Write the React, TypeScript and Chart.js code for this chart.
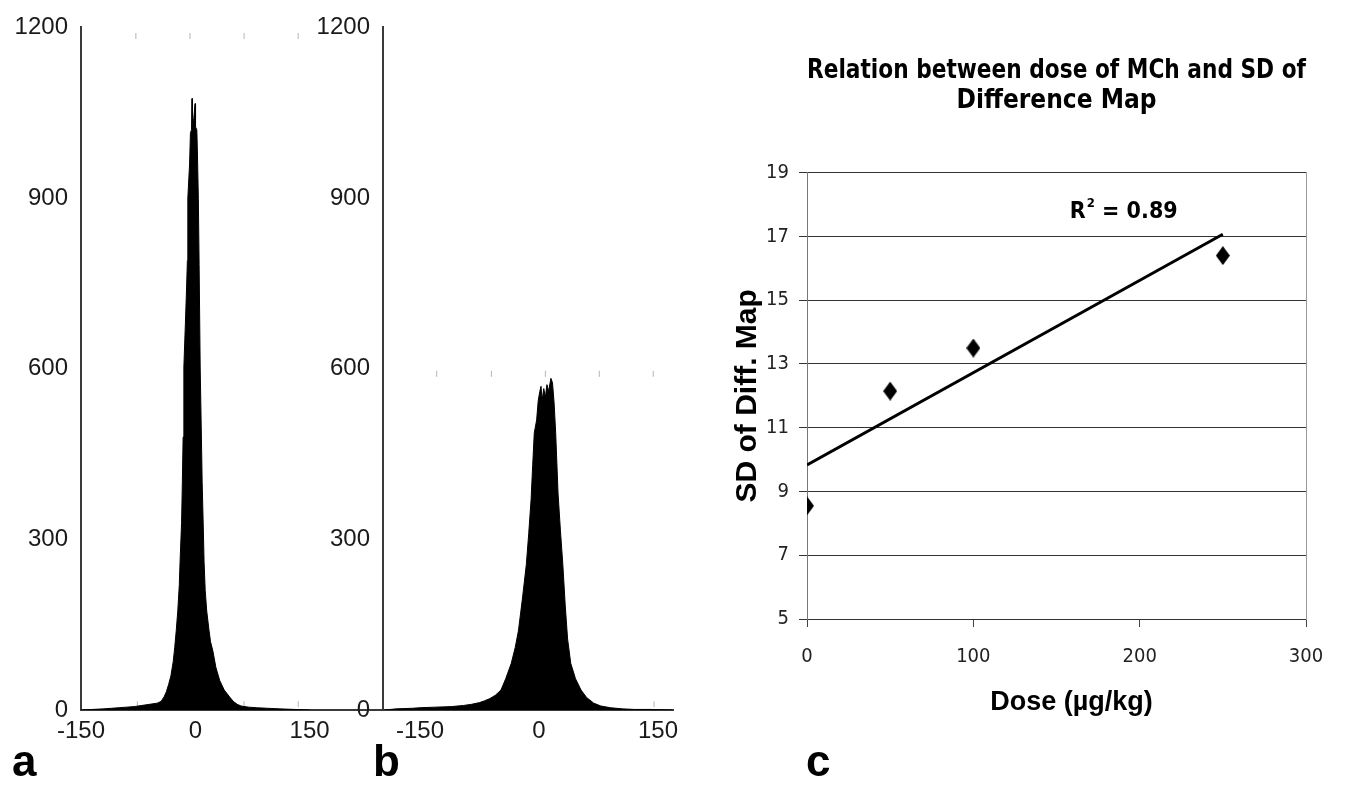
import React, { useEffect, useRef } from "react";
import { Chart, registerables } from "chart.js";

Chart.register(...registerables);

const W = 1345;
const H = 789;

// ---------- Panel a : histogram of difference values ----------
const histAX = [
  -150, -135, -120, -110, -100, -90, -80, -70, -60, -50,
  -45, -41, -38, -35, -32, -29, -27, -25, -23, -21,
  -20, -18, -17, -16, -15, -13, -11.5, -10.4, -9.8, -7.5,
  -6.4, -5, -4.3, -3.8, -2, -0.3, 0.3, 2, 2.6, 4,
  5, 6.4, 8, 9, 10.5, 11.5, 13, 15, 18, 20,
  23, 27, 32, 38, 45, 50, 55, 60, 70, 80,
  95, 110, 130, 150,
];
const histAY = [
  0, 1, 2, 3, 4, 5, 6, 8, 10, 12,
  15, 23, 32, 45, 60, 85, 110, 140, 174, 220,
  261, 330, 400, 480, 603, 680, 740, 790, 900, 960,
  1014, 1020, 1075, 1030, 1040, 1066, 1025, 1020, 990, 899,
  783, 603, 480, 400, 320, 261, 210, 174, 140, 120,
  104, 75, 52, 35, 23, 15, 10, 7, 5, 4,
  3, 2, 1, 0,
];

// ---------- Panel b : histogram of difference values ----------
const histBX = [
  -195, -180, -160, -150, -130, -110, -95, -85, -75, -69,
  -62, -55, -48, -42, -35, -30, -26, -21, -16, -13,
  -10, -8, -6, -3, -1, 1, 2.5, 4, 6, 8,
  10, 12, 15, 17, 19, 21, 24, 27, 30, 33,
  36, 40, 46, 53, 60, 69, 78, 90, 105, 120,
  140, 168,
];
const histBY = [
  0, 2, 3, 4, 5, 6, 8, 10, 13, 16,
  20, 26, 35, 55, 82, 110, 139, 195, 256, 310,
  370, 430, 487, 510, 544, 560, 569, 545, 565, 550,
  572, 560, 583, 575, 540, 487, 380, 315, 256, 185,
  125, 82, 55, 35, 22, 12, 7, 4, 2, 1,
  1, 0,
];

const histTickValuesX = [-150, 0, 150];
const histTickValuesY = [0, 300, 600, 900, 1200];

// faint stray tick marks visible in the scanned figure
const faintTopAX = [-78, -7, 64, 135];
const faintTopAY = 1185;
const faintBaseAX = [-76, 64, 135];
const faintBaseAY = 10;
const faintTopBX = [-129, -60, 8, 76, 144];
const faintTopBY = 591;
const faintBaseBX = [145];
const faintBaseBY = 10;

// ---------- Panel c : dose vs SD of difference map ----------
const doseValues = [0, 50, 100, 250];
const sdValues = [8.55, 12.15, 13.5, 16.4];
const trendDose = [0, 250];
const trendSd = [9.83, 17.07];
const doseTicks = [0, 100, 200, 300];
const sdTicks = [5, 7, 9, 11, 13, 15, 17, 19];
const r2Value = "0.89";
const r2LabelDose = 158;
const r2LabelSd = 17.76;
const titleC = ["Relation between dose of MCh and SD of", "Difference Map"];
const xTitleC = "Dose (\u00b5g/kg)";
const yTitleC = "SD of Diff. Map";

const ARIAL = '"Liberation Sans", Arial, sans-serif';
const TAHOMA = '"DejaVu Sans Condensed", "DejaVu Sans", sans-serif';

function pts(xs: number[], ys: number[]) {
  return xs.map((x, i) => ({ x, y: ys[i] }));
}
function flat(xs: number[], y: number) {
  return xs.map((x) => ({ x, y }));
}

function makeDiamond(): HTMLCanvasElement {
  const c = document.createElement("canvas");
  const w = 14;
  const h = 19;
  c.width = w;
  c.height = h;
  const g = c.getContext("2d") as CanvasRenderingContext2D;
  g.fillStyle = "#000";
  g.beginPath();
  g.moveTo(w / 2, 0);
  g.lineTo(w, h / 2);
  g.lineTo(w / 2, h);
  g.lineTo(0, h / 2);
  g.closePath();
  g.fill();
  return c;
}

function histConfig(
  xs: number[],
  ys: number[],
  xmin: number,
  xmax: number,
  padLeft: number,
  padRight: number,
  faintTop: { x: number; y: number }[],
  faintBase: { x: number; y: number }[]
) {
  const faintStyle = {
    type: "scatter",
    showLine: false,
    pointStyle: "line",
    rotation: 90,
    pointRadius: 3,
    borderColor: "#b5b5b5",
    backgroundColor: "#b5b5b5",
    borderWidth: 1,
  };
  return {
    type: "scatter",
    data: {
      datasets: [
        {
          data: pts(xs, ys),
          showLine: true,
          fill: "origin",
          backgroundColor: "#000",
          borderColor: "#000",
          borderWidth: 1,
          pointRadius: 0,
          tension: 0,
        },
        { ...faintStyle, data: faintTop },
        { ...faintStyle, data: faintBase },
      ],
    },
    options: {
      responsive: false,
      animation: false,
      events: [],
      layout: { padding: { left: padLeft, right: padRight, top: 20, bottom: 39 } },
      plugins: { legend: { display: false }, tooltip: { enabled: false }, title: { display: false } },
      scales: {
        x: {
          type: "linear",
          min: xmin,
          max: xmax,
          afterBuildTicks: (s: any) => {
            s.ticks = histTickValuesX.map((v) => ({ value: v }));
          },
          afterFit: (s: any) => {
            s.height = 40;
          },
          ticks: {
            font: { family: ARIAL, size: 24 },
            color: "#1a1a1a",
            padding: 7,
            autoSkip: false,
            maxRotation: 0,
            callback: (v: any) => String(v),
          },
          grid: { display: false, drawTicks: false },
          border: { display: true, color: "#3a3a3a", width: 2 },
        },
        y: {
          type: "linear",
          min: 0,
          max: 1200,
          afterBuildTicks: (s: any) => {
            s.ticks = histTickValuesY.map((v) => ({ value: v }));
          },
          afterFit: (s: any) => {
            s.width = 75;
          },
          ticks: {
            font: { family: ARIAL, size: 24 },
            color: "#1a1a1a",
            padding: 13,
            callback: (v: any) => String(v),
          },
          grid: { display: false, drawTicks: false },
          border: { display: true, color: "#3a3a3a", width: 2 },
        },
      },
    },
  };
}

const cTextPlugin = {
  id: "cText",
  afterDraw(chart: any) {
    const { ctx, scales, chartArea } = chart;
    const px = scales.x.getPixelForValue(r2LabelDose);
    const py = scales.y.getPixelForValue(r2LabelSd);
    ctx.save();
    ctx.fillStyle = "#000";
    ctx.textBaseline = "middle";
    ctx.textAlign = "left";
    ctx.font = `bold 23px ${TAHOMA}`;
    ctx.fillText("R", px, py);
    const wR = ctx.measureText("R").width;
    ctx.font = `bold 13px ${TAHOMA}`;
    ctx.fillText("2", px + wR + 1, py - 9);
    const w2 = ctx.measureText("2").width;
    ctx.font = `bold 23px ${TAHOMA}`;
    ctx.fillText(" = " + r2Value, px + wR + 1 + w2, py);

    ctx.font = `bold 27px ${ARIAL}`;
    ctx.textAlign = "center";
    ctx.fillText(xTitleC, (chartArea.left + chartArea.right) / 2 + 15, 703);
    ctx.restore();
  },
};

function scatterConfig() {
  return {
    type: "scatter",
    data: {
      datasets: [
        {
          data: pts(doseValues, sdValues),
          showLine: false,
          pointStyle: makeDiamond(),
          pointRadius: 8,
          backgroundColor: "#000",
          borderColor: "#000",
          borderWidth: 1,
        },
        {
          data: pts(trendDose, trendSd),
          showLine: true,
          borderColor: "#000",
          borderWidth: 3,
          pointRadius: 0,
          fill: false,
        },
      ],
    },
    options: {
      responsive: false,
      animation: false,
      events: [],
      layout: { padding: { left: 720, right: 39, top: 56, bottom: 110 } },
      plugins: {
        legend: { display: false },
        tooltip: { enabled: false },
        title: {
          display: true,
          fullSize: false,
          text: titleC,
          color: "#000",
          font: { family: TAHOMA, size: 26, weight: "bold", lineHeight: 1.15 },
          padding: { top: 0, bottom: 56.9 },
        },
      },
      scales: {
        x: {
          type: "linear",
          min: 0,
          max: 300,
          afterBuildTicks: (s: any) => {
            s.ticks = doseTicks.map((v) => ({ value: v }));
          },
          afterFit: (s: any) => {
            s.height = 60;
          },
          ticks: { font: { family: TAHOMA, size: 20 }, color: "#222", padding: 18, maxRotation: 0 },
          grid: { drawOnChartArea: false, drawTicks: true, tickLength: 8, color: "#444" },
          border: { display: true, color: "#333", width: 1 },
        },
        y: {
          type: "linear",
          min: 5,
          max: 19,
          afterBuildTicks: (s: any) => {
            s.ticks = sdTicks.map((v) => ({ value: v }));
          },
          afterFit: (s: any) => {
            s.width = 87;
          },
          ticks: { font: { family: TAHOMA, size: 20 }, color: "#222", padding: 10 },
          grid: { color: "#333", lineWidth: 1, tickLength: 8 },
          border: { display: true, color: "#777", width: 1 },
          title: {
            display: true,
            text: yTitleC,
            color: "#000",
            font: { family: ARIAL, size: 30, weight: "bold" },
            padding: { top: 10, bottom: 0 },
          },
        },
        yRight: {
          type: "linear",
          position: "right",
          min: 5,
          max: 19,
          afterFit: (s: any) => {
            s.width = 0;
          },
          ticks: { display: false },
          grid: { display: false },
          border: { display: true, color: "#999", width: 1 },
        },
      },
    },
    plugins: [cTextPlugin],
  };
}

function ChartCanvas({ make }: { make: () => any }) {
  const ref = useRef<HTMLCanvasElement>(null);
  useEffect(() => {
    const chart = new Chart(ref.current as HTMLCanvasElement, make());
    return () => chart.destroy();
  }, []);
  return (
    <canvas
      ref={ref}
      width={W}
      height={H}
      style={{ position: "absolute", left: 0, top: 0, width: W, height: H }}
    />
  );
}

const letterStyle: React.CSSProperties = {
  position: "absolute",
  fontFamily: ARIAL,
  fontWeight: "bold",
  fontSize: 44,
  lineHeight: "44px",
  color: "#000",
  top: 739,
};

export default function App() {
  return (
    <div
      style={{
        position: "fixed",
        left: 0,
        top: 0,
        width: W,
        height: H,
        background: "#fff",
        overflow: "hidden",
      }}
    >
      <ChartCanvas
        make={() =>
          histConfig(histAX, histAY, -150, 245, 6, W - 382, flat(faintTopAX, faintTopAY), flat(faintBaseAX, faintBaseAY))
        }
      />
      <ChartCanvas
        make={() =>
          histConfig(histBX, histBY, -196.7, 168.9, 383 - 75, W - 673, flat(faintTopBX, faintTopBY), flat(faintBaseBX, faintBaseBY))
        }
      />
      <ChartCanvas make={scatterConfig} />
      <div style={{ ...letterStyle, left: 12 }}>a</div>
      <div style={{ ...letterStyle, left: 373 }}>b</div>
      <div style={{ ...letterStyle, left: 806 }}>c</div>
    </div>
  );
}
